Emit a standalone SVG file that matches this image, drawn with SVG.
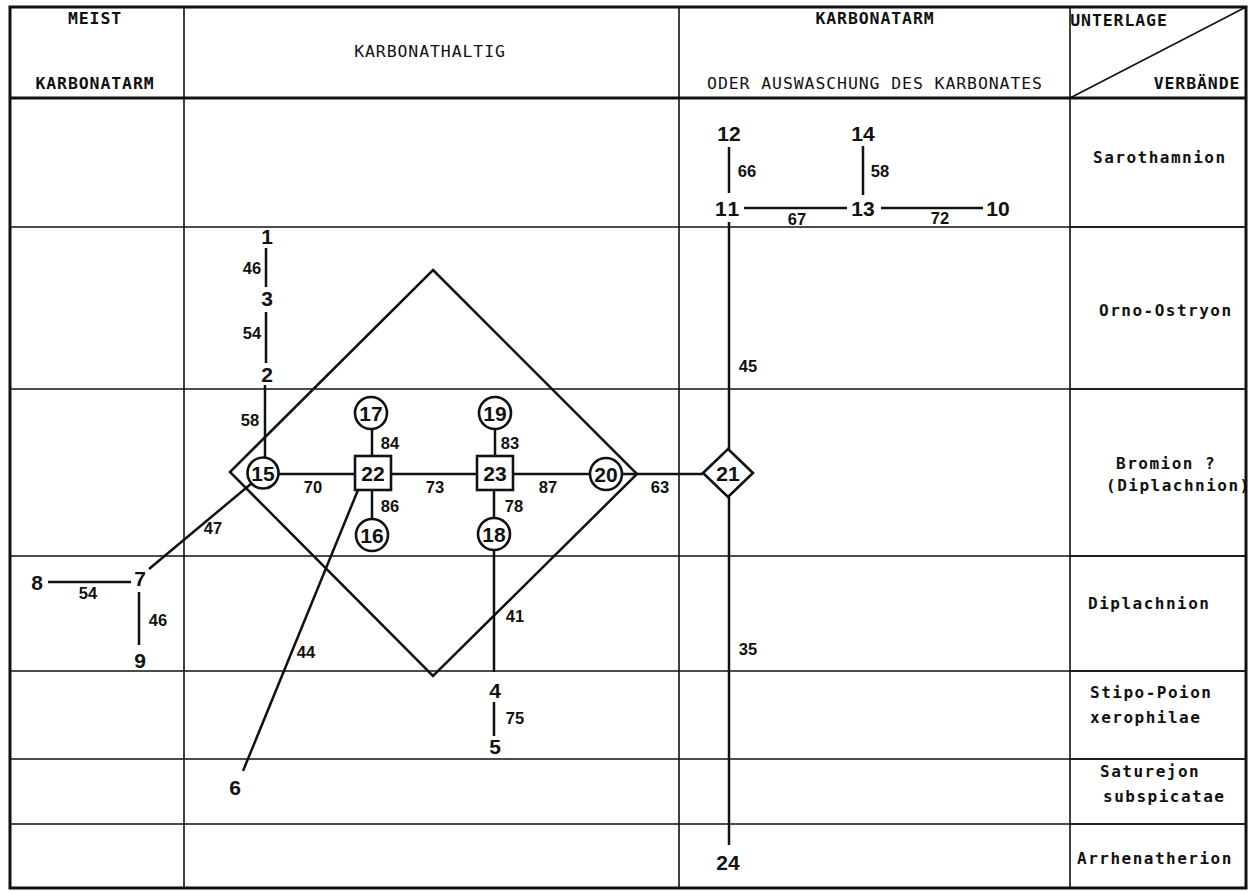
<svg xmlns="http://www.w3.org/2000/svg" width="1251" height="892" viewBox="0 0 1251 892">
<style>
.frame{fill:none;stroke:#111;stroke-width:3}
.grid{fill:none;stroke:#111;stroke-width:1.6}
.edge{fill:none;stroke:#111;stroke-width:2.5}
.node{fill:#fff;stroke:#111;stroke-width:2.6}
.num{font-family:"Liberation Sans",Arial,sans-serif;font-weight:bold;font-size:21px;fill:#111;text-anchor:middle}
.lbl{font-family:"Liberation Sans",Arial,sans-serif;font-weight:bold;font-size:16.5px;fill:#111;text-anchor:middle}
.hdr{font-family:"DejaVu Sans Mono","Liberation Mono",monospace;font-size:16.5px;letter-spacing:0.9px;fill:#111;text-anchor:middle}
.hdrb{font-weight:bold}
.vb{font-family:"DejaVu Sans Mono","Liberation Mono",monospace;font-size:16px;font-weight:bold;letter-spacing:1.5px;fill:#111}
</style>
<rect width="1251" height="892" fill="#fff"/>
<g id="grid">
<line class="grid" x1="10" y1="227" x2="1246" y2="227"/>
<line class="grid" x1="10" y1="389" x2="1246" y2="389"/>
<line class="grid" x1="10" y1="556" x2="1246" y2="556"/>
<line class="grid" x1="10" y1="671" x2="1246" y2="671"/>
<line class="grid" x1="10" y1="759" x2="1246" y2="759"/>
<line class="grid" x1="10" y1="824" x2="1246" y2="824"/>
<line class="grid" x1="1070" y1="227" x2="1246" y2="227" stroke-width="3"/>
<line class="grid" x1="1070" y1="389" x2="1246" y2="389" stroke-width="3"/>
<line class="grid" x1="1070" y1="556" x2="1246" y2="556" stroke-width="3"/>
<line class="grid" x1="1070" y1="671" x2="1246" y2="671" stroke-width="3"/>
<line class="grid" x1="1070" y1="759" x2="1246" y2="759" stroke-width="3"/>
<line class="grid" x1="1070" y1="824" x2="1246" y2="824" stroke-width="3"/>
<line class="grid" x1="184" y1="7" x2="184" y2="888"/>
<line class="grid" x1="679" y1="7" x2="679" y2="888"/>
<line class="grid" x1="1070" y1="7" x2="1070" y2="888" stroke-width="2.5"/>
<line class="frame" x1="10" y1="98" x2="1246" y2="98"/>
<line class="grid" x1="1070" y1="98" x2="1246" y2="7" stroke-width="2.5"/>
<rect class="frame" x="10" y="7" width="1236" height="881"/>
</g>
<g id="header">
<text class="hdr hdrb" x="95" y="24">MEIST</text>
<text class="hdr hdrb" x="95" y="89">KARBONATARM</text>
<text class="hdr" x="430" y="57">KARBONATHALTIG</text>
<text class="hdr hdrb" x="875" y="24">KARBONATARM</text>
<text class="hdr" x="875" y="89">ODER AUSWASCHUNG DES KARBONATES</text>
<text class="hdr hdrb" x="1119" y="26">UNTERLAGE</text>
<text class="hdr hdrb" x="1197" y="89">VERBÄNDE</text>
</g>
<g id="row-labels">
<text class="vb" x="1093" y="163">Sarothamnion</text>
<text class="vb" x="1099" y="316">Orno-Ostryon</text>
<text class="vb" x="1116" y="469">Bromion ?</text>
<text class="vb" x="1106" y="491">(Diplachnion)</text>
<text class="vb" x="1088" y="609">Diplachnion</text>
<text class="vb" x="1090" y="698">Stipo-Poion</text>
<text class="vb" x="1090" y="723">xerophilae</text>
<text class="vb" x="1100" y="777">Saturejon</text>
<text class="vb" x="1103" y="802">subspicatae</text>
<text class="vb" x="1077" y="864">Arrhenatherion</text>
</g>
<g id="big-diamond">
<polygon class="edge" points="433,270 637,474 433,676 230,472"/>
</g>
<g id="connectors">
<line class="edge" x1="266" y1="248" x2="266" y2="287"/>
<line class="edge" x1="266" y1="312" x2="266" y2="363"/>
<line class="edge" x1="265" y1="385" x2="265" y2="458"/>
<line class="edge" x1="729" y1="147" x2="729" y2="193"/>
<line class="edge" x1="863" y1="146" x2="863" y2="195"/>
<line class="edge" x1="744" y1="208" x2="847" y2="208"/>
<line class="edge" x1="881" y1="208" x2="983" y2="208"/>
<line class="edge" x1="729" y1="222" x2="729" y2="449"/>
<line class="edge" x1="729" y1="497" x2="729" y2="845"/>
<line class="edge" x1="278" y1="474" x2="703" y2="474"/>
<line class="edge" x1="372" y1="429" x2="372" y2="456"/>
<line class="edge" x1="372" y1="490" x2="372" y2="519"/>
<line class="edge" x1="495" y1="429" x2="495" y2="456"/>
<line class="edge" x1="494" y1="491" x2="494" y2="672"/>
<line class="edge" x1="494" y1="702" x2="494" y2="736"/>
<line class="edge" x1="252" y1="483" x2="149" y2="569"/>
<line class="edge" x1="358" y1="490" x2="243" y2="771"/>
<line class="edge" x1="48" y1="582" x2="131" y2="582"/>
<line class="edge" x1="139" y1="592" x2="139" y2="645"/>
</g>
<g id="edge-labels">
<text class="lbl" x="252" y="274">46</text>
<text class="lbl" x="252" y="339">54</text>
<text class="lbl" x="250" y="426">58</text>
<text class="lbl" x="747" y="177">66</text>
<text class="lbl" x="880" y="177">58</text>
<text class="lbl" x="797" y="225">67</text>
<text class="lbl" x="940" y="224">72</text>
<text class="lbl" x="88" y="599">54</text>
<text class="lbl" x="158" y="626">46</text>
<text class="lbl" x="213" y="534">47</text>
<text class="lbl" x="313" y="493">70</text>
<text class="lbl" x="435" y="493">73</text>
<text class="lbl" x="548" y="493">87</text>
<text class="lbl" x="390" y="449">84</text>
<text class="lbl" x="390" y="512">86</text>
<text class="lbl" x="510" y="449">83</text>
<text class="lbl" x="514" y="512">78</text>
<text class="lbl" x="660" y="493">63</text>
<text class="lbl" x="748" y="372">45</text>
<text class="lbl" x="748" y="655">35</text>
<text class="lbl" x="515" y="622">41</text>
<text class="lbl" x="515" y="724">75</text>
<text class="lbl" x="306" y="658">44</text>
</g>
<g id="n1"><text class="num" x="267" y="244">1</text></g>
<g id="n2"><text class="num" x="267" y="382">2</text></g>
<g id="n3"><text class="num" x="267" y="306">3</text></g>
<g id="n4"><text class="num" x="495" y="698">4</text></g>
<g id="n5"><text class="num" x="495" y="754">5</text></g>
<g id="n6"><text class="num" x="235" y="795">6</text></g>
<g id="n7"><text class="num" x="140" y="586">7</text></g>
<g id="n8"><text class="num" x="37" y="590">8</text></g>
<g id="n9"><text class="num" x="140" y="668">9</text></g>
<g id="n10"><text class="num" x="998" y="216">10</text></g>
<g id="n11"><text class="num" x="728" y="216" letter-spacing="2">11</text></g>
<g id="n12"><text class="num" x="729" y="141">12</text></g>
<g id="n13"><text class="num" x="863" y="216">13</text></g>
<g id="n14"><text class="num" x="863" y="141">14</text></g>
<g id="n15"><circle class="node" cx="263" cy="473" r="15.5"/><text class="num" x="263" y="481">15</text></g>
<g id="n16"><circle class="node" cx="372" cy="535" r="16"/><text class="num" x="372" y="543">16</text></g>
<g id="n17"><circle class="node" cx="371" cy="413" r="16"/><text class="num" x="371" y="421">17</text></g>
<g id="n18"><circle class="node" cx="494" cy="534" r="16"/><text class="num" x="494" y="542">18</text></g>
<g id="n19"><circle class="node" cx="495" cy="413" r="16"/><text class="num" x="495" y="421">19</text></g>
<g id="n20"><circle class="node" cx="606" cy="474" r="16"/><text class="num" x="606" y="482">20</text></g>
<g id="n21"><polygon class="node" points="728,449 753,473 728,497 703,473"/><text class="num" x="728" y="481">21</text></g>
<g id="n22"><rect class="node" x="355" y="456" width="36" height="34"/><text class="num" x="373" y="481">22</text></g>
<g id="n23"><rect class="node" x="477" y="456" width="36" height="34"/><text class="num" x="495" y="481">23</text></g>
<g id="n24"><text class="num" x="728" y="870">24</text></g>
</svg>
